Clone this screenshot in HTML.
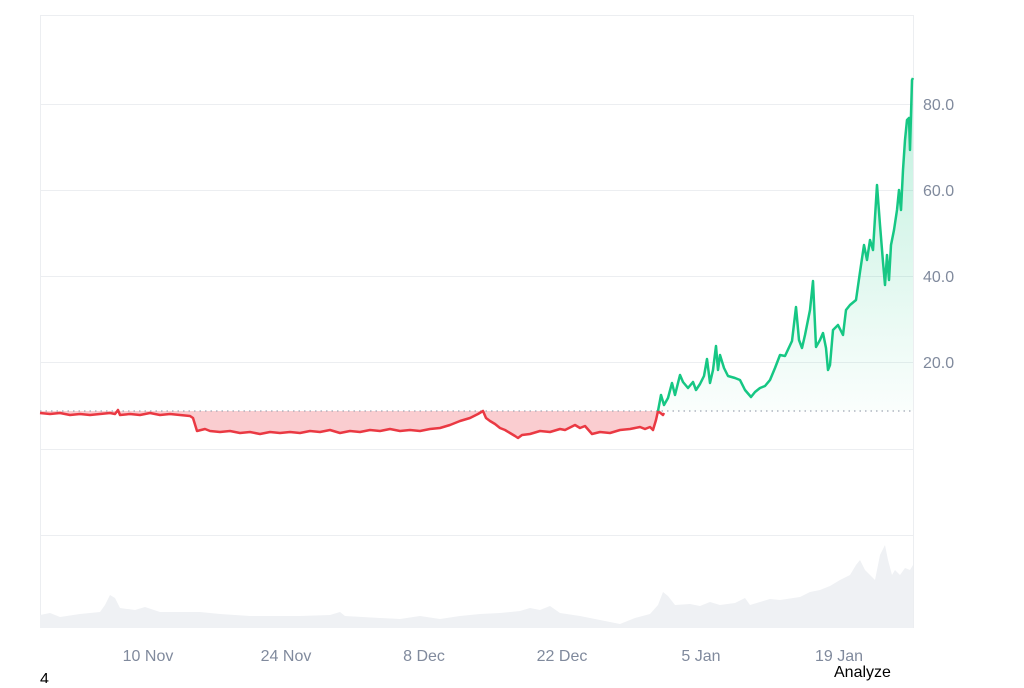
<!DOCTYPE html>
<html><head><style>
body{margin:0;background:#fff;}
svg text{font-family:"Liberation Sans",sans-serif;}
</style></head><body>
<svg width="1024" height="683" xmlns="http://www.w3.org/2000/svg">
<defs>
<linearGradient id="g" x1="0" y1="78" x2="0" y2="411" gradientUnits="userSpaceOnUse">
<stop offset="0" stop-color="#16c784" stop-opacity="0.28"/>
<stop offset="1" stop-color="#16c784" stop-opacity="0.02"/>
</linearGradient>
</defs>
<rect x="0" y="0" width="1024" height="683" fill="#fff"/>
<g stroke="#eceef1" stroke-width="1">
<line x1="40" y1="15.5" x2="913" y2="15.5"/>
<line x1="40" y1="104.5" x2="913" y2="104.5"/>
<line x1="40" y1="190.5" x2="913" y2="190.5"/>
<line x1="40" y1="276.5" x2="913" y2="276.5"/>
<line x1="40" y1="362.5" x2="913" y2="362.5"/>
<line x1="40" y1="449.5" x2="913" y2="449.5"/>
<line x1="40" y1="535.5" x2="913" y2="535.5"/>
<line x1="40.5" y1="15" x2="40.5" y2="628"/>
<line x1="913.5" y1="15" x2="913.5" y2="628"/>
</g>
<path fill="#eff1f4" d="M40,628 L40,615 L50,613 L60,617 L80,614 L100,612 L105,605 L110,595 L115,598 L120,608 L135,610 L145,607 L160,612 L200,612 L220,614 L250,616 L300,616 L330,615 L340,612 L345,616 L380,618 L400,619 L420,616 L440,619 L460,616 L480,614 L500,613 L520,611 L530,608 L540,610 L550,606 L560,613 L580,616 L600,620 L620,624 L635,618 L650,614 L658,605 L663,592 L668,596 L675,605 L690,604 L700,606 L710,602 L720,605 L735,603 L745,598 L750,605 L760,602 L770,599 L780,600 L800,597 L810,592 L820,590 L830,586 L840,580 L850,575 L856,565 L860,560 L865,570 L875,580 L880,555 L885,545 L888,560 L892,575 L895,570 L900,575 L905,568 L910,570 L913,565 L913,628 Z"/>
<path fill="#ea3943" fill-opacity="0.25" d="M40,411 L40,413 L50,414 L60,413 L70,415 L80,414 L90,415 L100,414 L110,413 L115,414 L118,410 L120,415 L130,414 L140,415 L150,413 L160,415 L170,414 L190,416 L193,418 L197,431 L205,429 L210,431 L220,432 L230,431 L240,433 L250,432 L260,434 L270,432 L280,433 L290,432 L300,433 L310,431 L320,432 L330,430 L340,433 L350,431 L360,432 L370,430 L380,431 L390,429 L400,431 L410,430 L420,431 L430,429 L440,428 L450,425 L460,421 L470,418 L478,414 L483,411 L486,418 L490,421 L495,424 L500,428 L505,430 L510,433 L515,436 L518,438 L522,435 L530,434 L540,431 L550,432 L560,429 L565,430 L575,425 L580,428 L585,426 L592,434 L600,432 L610,433 L620,430 L630,429 L640,427 L645,429 L650,427 L653,430 L656,420 L658,411 Z"/>
<path fill="url(#g)" d="M658,411 L661,395 L664,405 L668,398 L672,383 L675,395 L680,375 L683,382 L688,388 L693,382 L696,390 L700,384 L704,376 L707,359 L710,383 L713,370 L716,346 L718,370 L720,355 L724,368 L728,376 L735,378 L740,380 L745,390 L751,397 L755,392 L760,388 L765,386 L770,380 L775,368 L780,355 L785,356 L792,341 L796,307 L799,340 L802,348 L805,335 L810,310 L813,281 L816,347 L820,340 L823,333 L826,348 L828,370 L830,365 L833,330 L838,325 L843,335 L846,310 L850,305 L856,300 L860,272 L864,245 L867,260 L870,240 L873,250 L877,185 L880,225 L883,262 L885,285 L887,255 L889,280 L891,245 L894,230 L897,210 L899,190 L901,210 L903,170 L905,140 L907,120 L909,118 L910,150 L912,80 L913,78 L913,411 Z" />
<line x1="40" y1="411" x2="913" y2="411" stroke="#a0a7b4" stroke-width="1.2" stroke-dasharray="1.5,4"/>
<polyline fill="none" stroke="#ea3943" stroke-width="2.5" stroke-linejoin="round" points="40,413 50,414 60,413 70,415 80,414 90,415 100,414 110,413 115,414 118,410 120,415 130,414 140,415 150,413 160,415 170,414 190,416 193,418 197,431 205,429 210,431 220,432 230,431 240,433 250,432 260,434 270,432 280,433 290,432 300,433 310,431 320,432 330,430 340,433 350,431 360,432 370,430 380,431 390,429 400,431 410,430 420,431 430,429 440,428 450,425 460,421 470,418 478,414 483,411 486,418 490,421 495,424 500,428 505,430 510,433 515,436 518,438 522,435 530,434 540,431 550,432 560,429 565,430 575,425 580,428 585,426 592,434 600,432 610,433 620,430 630,429 640,427 645,429 650,427 653,430 656,420 658,411 663,415 664,413"/>
<polyline fill="none" stroke="#16c784" stroke-width="2.5" stroke-linejoin="round" points="658,411 661,395 664,405 668,398 672,383 675,395 680,375 683,382 688,388 693,382 696,390 700,384 704,376 707,359 710,383 713,370 716,346 718,370 720,355 724,368 728,376 735,378 740,380 745,390 751,397 755,392 760,388 765,386 770,380 775,368 780,355 785,356 792,341 796,307 799,340 802,348 805,335 810,310 813,281 816,347 820,340 823,333 826,348 828,370 830,365 833,330 838,325 843,335 846,310 850,305 856,300 860,272 864,245 867,260 870,240 873,250 877,185 880,225 883,262 885,285 887,255 889,280 891,245 894,230 897,210 899,190 901,210 903,170 905,140 907,120 909,118 910,150 912,80 913,78"/>
<g fill="#808a9d" font-size="16">
<text x="923" y="110">80.0</text>
<text x="923" y="196">60.0</text>
<text x="923" y="282">40.0</text>
<text x="923" y="368">20.0</text>
<g text-anchor="middle">
<text x="148" y="661">10 Nov</text>
<text x="286" y="661">24 Nov</text>
<text x="424" y="661">8 Dec</text>
<text x="562" y="661">22 Dec</text>
<text x="701" y="661">5 Jan</text>
<text x="839" y="661">19 Jan</text>
</g>
</g>
<text x="40" y="684" font-size="16" fill="#000">4</text>
<text x="834" y="677" font-size="16" fill="#000">Analyze</text>
</svg>
</body></html>
